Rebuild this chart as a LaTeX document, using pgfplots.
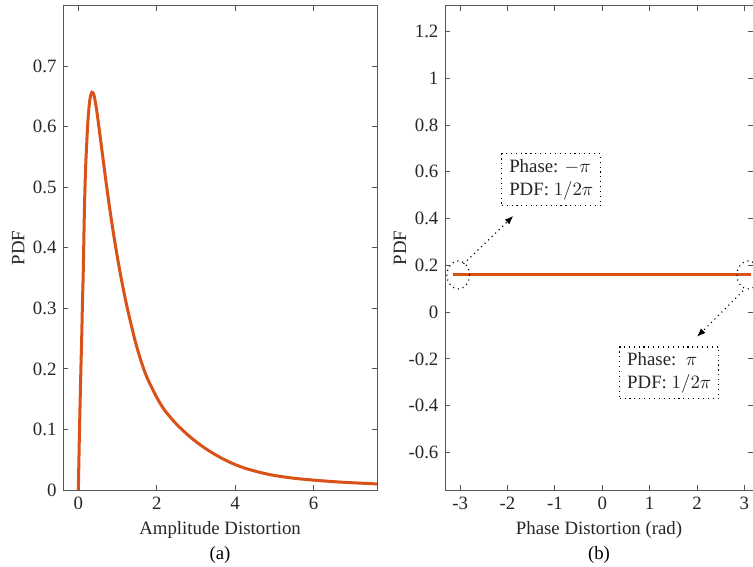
\documentclass[border=0pt]{standalone}
\usepackage{fontspec}
\setmainfont{Liberation Serif}
\usepackage{pgfplots}
\pgfplotsset{compat=1.18}
\usetikzlibrary{arrows.meta}
\definecolor{curve}{HTML}{D95319}
\definecolor{axgray}{HTML}{555555}

\pgfplotsset{
  mlab/.style={
    scale only axis,
    axis line style={axgray},
    tick style={axgray, line width=0.5pt},
    major tick length=2.7pt,
    tick align=inside,
    font=\fontsize{10}{12}\selectfont,
    ticklabel style={text=black!85},
    label style={text=black!85},
    /pgf/number format/assume math mode=true,
  },
}

\begin{document}
\begin{tikzpicture}
\useasboundingbox (-33.5pt,-40.9pt) rectangle (366.5pt,260.3pt);

% (a) amplitude
\begin{axis}[mlab, name=L, at={(0pt,0pt)}, anchor=south west,
    width=166.8pt, height=257.3pt,
    xmin=-0.39, xmax=7.62, ymin=0, ymax=0.8,
    xtick={0,2,4,6},
    ytick={0,0.1,0.2,0.3,0.4,0.5,0.6,0.7},
    xlabel={Amplitude Distortion}, ylabel={PDF},
    xlabel style={at={(axis description cs:0.5,-0.083)}, anchor=center},
    ylabel style={at={(axis description cs:-0.143,0.5)}, anchor=center},
  ]
  \addplot[curve, line width=1.6pt, smooth, tension=0.5] coordinates {
    (0,0) (0.01,0.035) (0.025,0.085) (0.045,0.145) (0.065,0.20)
    (0.085,0.25) (0.105,0.31) (0.125,0.36) (0.145,0.43) (0.165,0.49)
    (0.19,0.54) (0.21,0.567) (0.235,0.60) (0.26,0.623) (0.29,0.643)
    (0.32,0.653) (0.35,0.657) (0.40,0.652) (0.47,0.626) (0.55,0.587)
    (0.62,0.552) (0.70,0.512) (0.80,0.465) (0.90,0.422) (1.00,0.383)
    (1.11,0.344) (1.25,0.300) (1.45,0.246) (1.60,0.213) (1.75,0.186)
    (2.0,0.153) (2.21,0.131) (2.5,0.109) (2.81,0.090) (3.1,0.075)
    (3.4,0.062) (3.7,0.051) (4.0,0.042) (4.3,0.035) (4.64,0.029)
    (5.0,0.024) (5.49,0.0195) (6.0,0.0163) (6.4,0.0143) (6.77,0.0127)
    (7.2,0.0113) (7.62,0.010)
  };
\end{axis}
\node at ([yshift=-34.5pt]L.south) {(a)};

% (b) phase
\begin{axis}[mlab, name=R, at={(202.9pt,0pt)}, anchor=south west,
    width=163.6pt, height=257.3pt,
    xmin=-3.32, xmax=3.18, ymin=-0.76, ymax=1.31,
    xtick={-3,-2,-1,0,1,2,3},
    ytick={-0.6,-0.4,-0.2,0,0.2,0.4,0.6,0.8,1,1.2},
    xlabel={Phase Distortion (rad)}, ylabel={PDF},
    xlabel style={at={(axis description cs:0.5,-0.083)}, anchor=center},
    ylabel style={at={(axis description cs:-0.146,0.5)}, anchor=center},
  ]
  \addplot[curve, line width=1.6pt] coordinates {(-3.1416,0.159) (3.1416,0.159)};
  \draw[black, dotted, line width=0.6pt] (axis cs:-3.04,0.159) ellipse [x radius=6pt, y radius=7.4pt];
  \draw[black, dotted, line width=0.6pt] (axis cs:3.08,0.159) ellipse [x radius=6pt, y radius=7.4pt];
  \draw[black, dotted, line width=0.6pt, -{Latex[length=4.5pt,width=3.5pt]}]
    (axis cs:-2.93,0.206) -- (axis cs:-1.88,0.411);
  \draw[black, dotted, line width=0.6pt, -{Latex[length=4.5pt,width=3.5pt]}]
    (axis cs:2.97,0.091) -- (axis cs:2.0,-0.105);
  \node[draw=black, dotted, line width=0.6pt, fill=white, align=left,
        inner xsep=4pt, inner ysep=3pt, text=black!85]
    at (axis cs:-1.076,0.566) {Phase: $-\pi$\\PDF: $1/2\pi$};
  \node[draw=black, dotted, line width=0.6pt, fill=white, align=left,
        inner xsep=4pt, inner ysep=3pt, text=black!85]
    at (axis cs:1.413,-0.259) {Phase:\ \ $\pi$\\PDF: $1/2\pi$};
\end{axis}
\node at ([yshift=-34.5pt]R.south) {(b)};
\end{tikzpicture}
\end{document}
